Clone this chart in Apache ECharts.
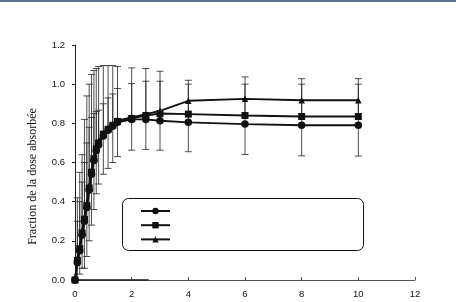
<!DOCTYPE html>
<html><head><meta charset="utf-8">
<script src="https://cdn.jsdelivr.net/npm/echarts@6/dist/echarts.min.js"></script>
<style>html,body{margin:0;padding:0;background:#fff}#c{width:456px;height:302px}</style>
</head><body><div id="c"></div>
<script>
const times      = [0, 0.083, 0.167, 0.25, 0.333, 0.417, 0.5, 0.583, 0.667, 0.75, 0.833, 1.0, 1.167, 1.333, 1.5, 2, 2.5, 3, 4, 6, 8, 10];
const circleVals = [0, 0.09, 0.15, 0.23, 0.30, 0.37, 0.46, 0.54, 0.61, 0.66, 0.69, 0.735, 0.765, 0.785, 0.805, 0.82, 0.82, 0.813, 0.805, 0.796, 0.79, 0.79];
const squareVals = [0, 0.10, 0.16, 0.24, 0.31, 0.38, 0.47, 0.55, 0.62, 0.67, 0.70, 0.745, 0.77, 0.79, 0.81, 0.825, 0.84, 0.85, 0.847, 0.84, 0.835, 0.835];
const triVals    = [0, 0.11, 0.17, 0.25, 0.32, 0.39, 0.48, 0.56, 0.63, 0.68, 0.71, 0.75, 0.775, 0.795, 0.815, 0.83, 0.847, 0.864, 0.915, 0.925, 0.918, 0.918];
const errHigh    = [0, 0.42, 0.55, 0.64, 0.82, 0.94, 1.00, 1.05, 1.07, 1.08, 1.09, 1.095, 1.095, 1.095, 1.09, 1.083, 1.08, 1.066, 1.02, 1.037, 1.028, 1.028];
const errLow     = [0, 0.0, 0.03, 0.06, 0.06, 0.12, 0.20, 0.28, 0.36, 0.44, 0.49, 0.54, 0.57, 0.60, 0.63, 0.663, 0.667, 0.663, 0.655, 0.641, 0.634, 0.633];
const errHigh2   = [0, 0.30, 0.40, 0.50, 0.60, 0.70, 0.78, 0.83, 0.85, 0.86, 0.867, 0.90, 0.93, 0.95, 0.978, 1.003, 1.015, 1.015, 1.0, 1.0, 1.0, 1.0];
const xTicks = [0, 2, 4, 6, 8, 10, 12];
const yTicks = [0.0, 0.2, 0.4, 0.6, 0.8, 1.0, 1.2];
const yTitle = 'Fraction de la dose absorbée';
const baseline = [[0, 0], [2.6, 0]];

const pair = v => times.map((t, i) => [t, v[i]]);
const errData = times.map((t, i) => [t, errHigh[i], errLow[i]]);
const errData2 = times.map((t, i) => [t, errHigh2[i], squareVals[i]]);

function errRender(caps) {
  return function (params, api) {
    const x = api.value(0);
    const a = api.coord([x, api.value(1)]);
    const b = api.coord([x, api.value(2)]);
    const w = 3.5;
    const st = { stroke: '#222', lineWidth: 0.8 };
    const ch = [{ type: 'line', shape: { x1: a[0], y1: a[1], x2: b[0], y2: b[1] }, style: st },
                { type: 'line', shape: { x1: a[0] - w, y1: a[1], x2: a[0] + w, y2: a[1] }, style: st }];
    if (caps) ch.push({ type: 'line', shape: { x1: b[0] - w, y1: b[1], x2: b[0] + w, y2: b[1] }, style: st });
    return { type: 'group', children: ch };
  };
}

const chart = echarts.init(document.getElementById('c'), null, { renderer: 'canvas' });
const lineBase = { type: 'line', lineStyle: { color: '#111', width: 1.9 }, itemStyle: { color: '#111' }, z: 5, animation: false };
chart.setOption({
  animation: false,
  backgroundColor: '#fff',
  grid: { left: 75, right: 41, top: 45, bottom: 22 },
  xAxis: {
    type: 'value', min: 0, max: 12, interval: 2,
    axisLine: { lineStyle: { color: '#555', width: 1 } },
    axisTick: { inside: true, length: 3, lineStyle: { color: '#555' } },
    axisLabel: { color: '#111', fontSize: 9.5, fontFamily: 'Liberation Sans', margin: 9,
      formatter: v => xTicks.includes(v) ? String(v) : '' },
    splitLine: { show: false }
  },
  yAxis: {
    type: 'value', min: 0, max: 1.2, interval: 0.2,
    name: yTitle, nameLocation: 'middle', nameGap: 36, nameRotate: 90,
    nameTextStyle: { fontFamily: 'Liberation Serif', fontSize: 12, color: '#111', padding: [0, 0, 0, -28] },
    axisLine: { show: true, lineStyle: { color: '#222', width: 1 } },
    axisTick: { show: true, length: 3, lineStyle: { color: '#222' } },
    axisLabel: { color: '#111', fontSize: 9.5, fontFamily: 'Liberation Sans', margin: 10,
      formatter: v => yTicks.find(t => Math.abs(t - v) < 1e-6).toFixed(1) },
    splitLine: { show: false }
  },
  legend: {
    left: 135, top: 202, orient: 'vertical', itemWidth: 29, itemHeight: 8, itemGap: 7,
    formatter: () => '', data: ['c', 's', 't'], selectedMode: false,
    textStyle: { fontSize: 1 }
  },
  graphic: [
    { type: 'rect', shape: { x: 0, y: 0, width: 456, height: 2 }, style: { fill: '#5b7192' } },
    { type: 'rect', shape: { x: 122.5, y: 198.5, width: 241, height: 52, r: 6 }, style: { fill: 'none', stroke: '#111', lineWidth: 1 }, z: 10 }
  ],
  series: [
    { type: 'custom', renderItem: errRender(true), data: errData, encode: { x: 0, y: [1, 2] }, z: 2 },
    { type: 'custom', renderItem: errRender(false), data: errData2, encode: { x: 0, y: [1, 2] }, z: 2 },
    Object.assign({}, lineBase, { name: 'c', data: pair(circleVals), symbol: 'circle', symbolSize: 7.5 }),
    Object.assign({}, lineBase, { name: 's', data: pair(squareVals), symbol: 'rect', symbolSize: 7 }),
    Object.assign({}, lineBase, { name: 't', data: pair(triVals), symbol: 'triangle', symbolSize: 6.5 }),
    { type: 'line', data: baseline, symbol: 'none', lineStyle: { color: '#111', width: 1.5 }, z: 4 }
  ]
});
</script></body></html>
